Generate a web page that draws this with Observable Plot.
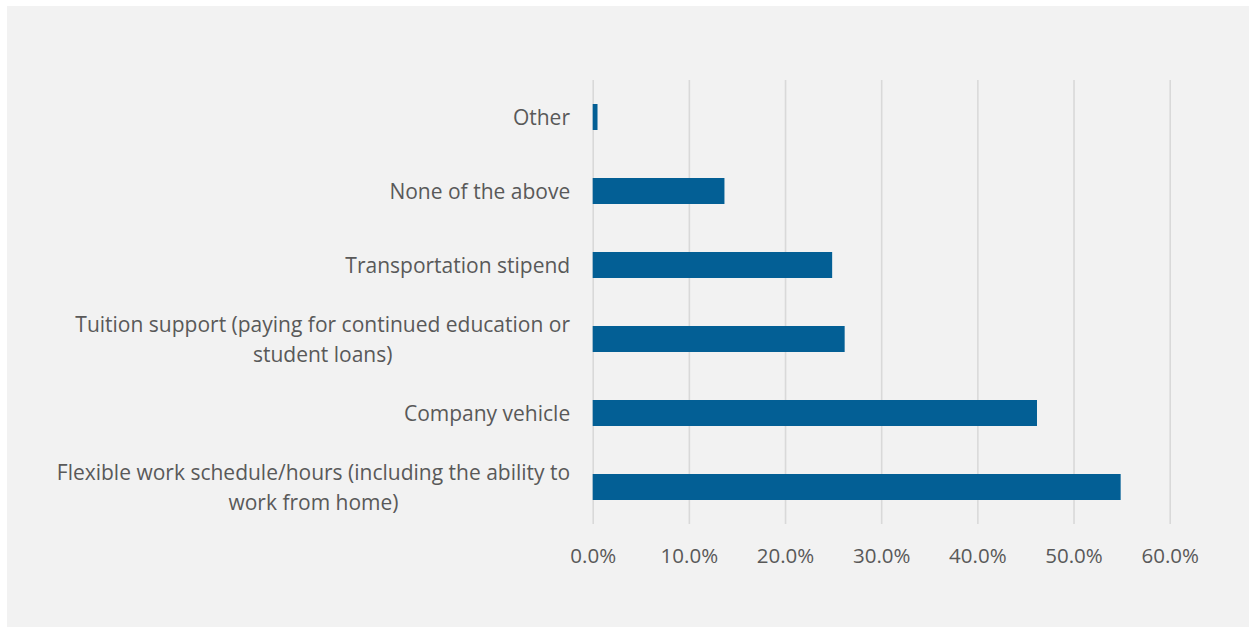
<!DOCTYPE html>
<html>
<head>
<meta charset="utf-8">
<script src="https://cdn.jsdelivr.net/npm/d3@7"></script>
<script src="https://cdn.jsdelivr.net/npm/@observablehq/plot@0.6"></script>
<style>
  html, body { margin: 0; padding: 0; background: #ffffff; }
  #panel { position: absolute; left: 7px; top: 6px; width: 1242px; height: 621px; background: #f2f2f2; }
  #panel svg { display: block; background: transparent; }
</style>
</head>
<body>
<div id="panel"></div>
<script>
const categories = [
  "Other",
  "None of the above",
  "Transportation stipend",
  "Tuition support (paying for continued education or\nstudent loans)",
  "Company vehicle",
  "Flexible work schedule/hours (including the ability to\nwork from home)"
];
const values = [0.005, 0.137, 0.249, 0.262, 0.462, 0.549];
const xTicks = [0, 0.1, 0.2, 0.3, 0.4, 0.5, 0.6];

const data = categories.map((c, i) => ({category: c, value: values[i]}));

const FONT = "'Open Sans', 'Noto Sans', sans-serif";
const TEXT = "#595959";

const chart = Plot.plot({
  width: 1242,
  height: 621,
  marginLeft: 585.7,
  marginRight: 79.3,
  marginTop: 74,
  marginBottom: 103,
  style: {background: "transparent", fontFamily: FONT, fontSize: "20px", color: TEXT},
  x: {domain: [0, 0.6], ticks: xTicks, tickFormat: d => (d * 100).toFixed(1) + "%"},
  y: {domain: categories, padding: 0},
  marks: [
    Plot.ruleX(xTicks, {stroke: "#d9d9d9", strokeWidth: 1.6}),
    Plot.barX(data, {x: "value", y: "category", fill: "#035f95", insetTop: 24, insetBottom: 24}),
    Plot.axisX({ticks: xTicks, tickSize: 0, tickPadding: 24, fontSize: 20.5, fill: TEXT, label: null,
      tickFormat: d => (d * 100).toFixed(1) + "%"}),
    Plot.axisY({ticks: [], label: null, tickSize: 0}),
    Plot.text(data, {y: "category", text: "category", frameAnchor: "left", dx: -23, dy: -2,
      textAnchor: "end", lineAnchor: "middle", lineHeight: 1.4, fontSize: 21, fill: TEXT,
      className: "ylabels"})
  ]
});
document.getElementById("panel").appendChild(chart);

// center wrapped label lines on each other, keeping the block right-aligned
chart.querySelectorAll("g.ylabels text, g[aria-label='text'] text").forEach(t => {
  const w = t.getBBox().width;
  t.setAttribute("text-anchor", "middle");
  const tr = t.getAttribute("transform") || "";
  t.setAttribute("transform", tr + ` translate(${-w / 2},0)`);
});
</script>
</body>
</html>
